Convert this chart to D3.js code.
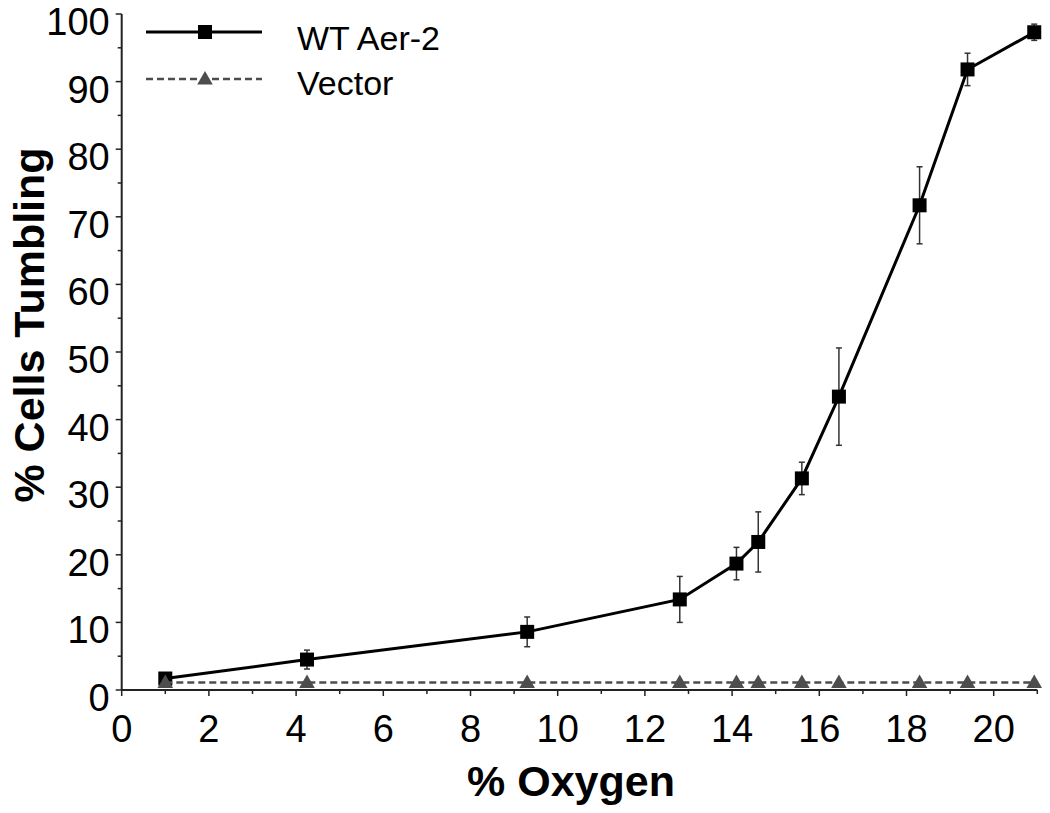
<!DOCTYPE html>
<html>
<head>
<meta charset="utf-8">
<script src="https://cdn.jsdelivr.net/npm/d3@7"></script>
<style>
  html, body { margin: 0; padding: 0; background: #fff; }
  svg { display: block; font-family: "Liberation Sans", Arial, Helvetica, sans-serif; }
</style>
</head>
<body>
<svg id="chart" width="1050" height="813"></svg>
<script>
// ---- data ----
const oxygen = [1.0, 4.25, 9.3, 12.8, 14.1, 14.6, 15.6, 16.45, 18.3, 19.4, 20.93];
const wtAer2 = [1.7, 4.5, 8.6, 13.4, 18.7, 21.9, 31.3, 43.4, 71.7, 91.8, 97.3];
const wtAer2Err = [0.5, 1.4, 2.2, 3.4, 2.4, 4.45, 2.4, 7.2, 5.7, 2.4, 1.2];
const vectorVals = [1.1, 1.1, 1.1, 1.1, 1.1, 1.1, 1.1, 1.1, 1.1, 1.1, 1.1];
const xTicks = [0, 2, 4, 6, 8, 10, 12, 14, 16, 18, 20];
const yTicks = [0, 10, 20, 30, 40, 50, 60, 70, 80, 90, 100];
const seriesNames = ["WT Aer-2", "Vector"];
const xTitle = "% Oxygen";
const yTitle = "% Cells Tumbling";

const svg = d3.select("#chart");
const x = d3.scaleLinear().domain([0, 21]).range([121.7, 1037.3]);
const y = d3.scaleLinear().domain([0, 100]).range([690, 14]);

const axisColor = "#222";

// x axis
const xAxis = svg.append("g").attr("transform", `translate(0,${y(0)})`);
xAxis.append("line").attr("x1", x(0)).attr("x2", x(21)).attr("y1", 0).attr("y2", 0)
  .attr("stroke", axisColor).attr("stroke-width", 2);
const xMinor = d3.range(1, 22, 2);
xAxis.selectAll(".xmin").data(xMinor).join("line")
  .attr("x1", d => x(d)).attr("x2", d => x(d)).attr("y1", 0).attr("y2", 4)
  .attr("stroke", axisColor).attr("stroke-width", 1.5);
xAxis.selectAll(".xmaj").data(xTicks).join("line")
  .attr("x1", d => x(d)).attr("x2", d => x(d)).attr("y1", 0).attr("y2", 6)
  .attr("stroke", axisColor).attr("stroke-width", 1.5);
xAxis.selectAll("text").data(xTicks).join("text")
  .attr("x", d => x(d)).attr("y", 52)
  .attr("text-anchor", "middle").attr("font-size", 38).attr("fill", "#000")
  .text(d => d);

// y axis
const yAxis = svg.append("g").attr("transform", `translate(${x(0)},0)`);
yAxis.append("line").attr("x1", 0).attr("x2", 0).attr("y1", y(0)).attr("y2", y(100))
  .attr("stroke", axisColor).attr("stroke-width", 2);
const yMinor = d3.range(5, 100, 10);
yAxis.selectAll(".ymin").data(yMinor).join("line")
  .attr("x1", -4).attr("x2", 0).attr("y1", d => y(d)).attr("y2", d => y(d))
  .attr("stroke", axisColor).attr("stroke-width", 1.5);
yAxis.selectAll(".ymaj").data(yTicks).join("line")
  .attr("x1", -6).attr("x2", 0).attr("y1", d => y(d)).attr("y2", d => y(d))
  .attr("stroke", axisColor).attr("stroke-width", 1.5);
yAxis.selectAll("text").data(yTicks).join("text")
  .attr("x", -12).attr("y", d => y(d) + 21)
  .attr("text-anchor", "end").attr("font-size", 38).attr("fill", "#000")
  .text(d => d);

// axis titles
svg.append("text").attr("x", 571).attr("y", 796)
  .attr("text-anchor", "middle").attr("font-size", 43).attr("font-weight", "bold")
  .text(xTitle);
svg.append("text").attr("transform", "translate(44,325) rotate(-90)")
  .attr("text-anchor", "middle").attr("font-size", 43).attr("font-weight", "bold")
  .text(yTitle);

const wtData = oxygen.map((o, i) => ({x: o, y: wtAer2[i], e: wtAer2Err[i]}));
const vecData = oxygen.map((o, i) => ({x: o, y: vectorVals[i]}));

// error bars
const eb = svg.append("g").attr("stroke", "#333").attr("stroke-width", 1.5);
wtData.forEach(d => {
  eb.append("line").attr("x1", x(d.x)).attr("x2", x(d.x))
    .attr("y1", y(d.y - d.e)).attr("y2", y(d.y + d.e));
  eb.append("line").attr("x1", x(d.x) - 3).attr("x2", x(d.x) + 3)
    .attr("y1", y(d.y + d.e)).attr("y2", y(d.y + d.e));
  eb.append("line").attr("x1", x(d.x) - 3).attr("x2", x(d.x) + 3)
    .attr("y1", y(d.y - d.e)).attr("y2", y(d.y - d.e));
});

// WT line + markers
const line = d3.line().x(d => x(d.x)).y(d => y(d.y));
svg.append("path").datum(wtData).attr("d", line)
  .attr("fill", "none").attr("stroke", "#000").attr("stroke-width", 3);
const sq = 14;
svg.selectAll(".sq").data(wtData).join("rect")
  .attr("x", d => x(d.x) - sq / 2).attr("y", d => y(d.y) - sq / 2)
  .attr("width", sq).attr("height", sq).attr("fill", "#000");

// Vector line + markers
const vecColor = "#4d4d4d";
svg.append("path").datum(vecData).attr("d", line)
  .attr("fill", "none").attr("stroke", vecColor).attr("stroke-width", 2.5)
  .attr("stroke-dasharray", "7,4");
const tri = d3.symbol().type(d3.symbolTriangle).size(105);
svg.selectAll(".tri").data(vecData).join("path")
  .attr("d", tri)
  .attr("transform", d => `translate(${x(d.x)},${y(d.y) + 1})`)
  .attr("fill", vecColor);

// legend
const lg = svg.append("g");
lg.append("line").attr("x1", 146).attr("x2", 262).attr("y1", 32).attr("y2", 32)
  .attr("stroke", "#000").attr("stroke-width", 3);
lg.append("rect").attr("x", 205 - sq / 2).attr("y", 32 - sq / 2)
  .attr("width", sq).attr("height", sq).attr("fill", "#000");
lg.append("text").attr("x", 297).attr("y", 50).attr("font-size", 34).text(seriesNames[0]);
lg.append("line").attr("x1", 146).attr("x2", 262).attr("y1", 79).attr("y2", 79)
  .attr("stroke", vecColor).attr("stroke-width", 2.5).attr("stroke-dasharray", "7,4");
lg.append("path").attr("d", tri).attr("transform", "translate(205,80)").attr("fill", vecColor);
lg.append("text").attr("x", 297).attr("y", 95).attr("font-size", 34).text(seriesNames[1]);
</script>
</body>
</html>
